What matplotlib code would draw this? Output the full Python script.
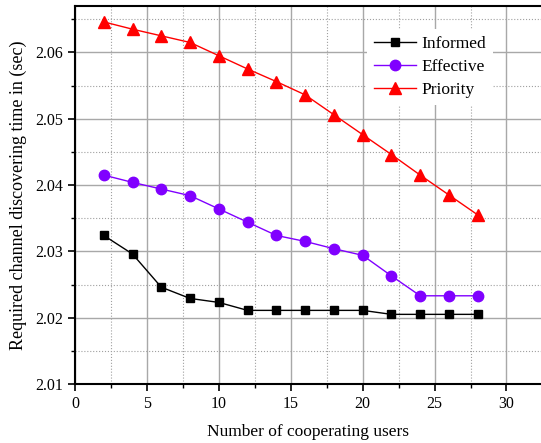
import numpy as np
import matplotlib
matplotlib.use('Agg')
import matplotlib.pyplot as plt
from matplotlib.ticker import MultipleLocator

# data
users = [2, 4, 6, 8, 10, 12, 14, 16, 18, 20, 22, 24, 26, 28]
informed = [2.0324, 2.0296, 2.0246, 2.0229, 2.0223, 2.0211, 2.0211,
            2.0211, 2.0211, 2.0211, 2.0205, 2.0205, 2.0205, 2.0205]
effective = [2.0415, 2.0404, 2.0394, 2.0384, 2.0364, 2.0344, 2.0324,
             2.0315, 2.0304, 2.0294, 2.0263, 2.0233, 2.0233, 2.0233]
priority = [2.0646, 2.0635, 2.0625, 2.0615, 2.0595, 2.0575, 2.0556,
            2.0536, 2.0506, 2.0476, 2.0446, 2.0415, 2.0385, 2.0355]

plt.rcParams['font.family'] = ['Liberation Serif', 'DejaVu Serif']

fig = plt.figure(figsize=(5.41, 4.43), dpi=100)
ax = fig.add_axes([0.1386, 0.1332, 0.8614, 0.8533])

ax.plot(users, informed, color='black', marker='s', ms=6, lw=1, label='Informed')
ax.plot(users, effective, color='#8000ff', marker='o', ms=7.5, lw=1, label='Effective')
ax.plot(users, priority, color='red', marker='^', ms=9, lw=1, label='Priority')

ax.set_xlim(0, 32.4)
ax.set_ylim(2.01, 2.067)
ax.xaxis.set_major_locator(MultipleLocator(5))
ax.xaxis.set_minor_locator(MultipleLocator(2.5))
ax.yaxis.set_major_locator(MultipleLocator(0.01))
ax.yaxis.set_minor_locator(MultipleLocator(0.005))
ax.yaxis.set_major_formatter(plt.FormatStrFormatter('%.2f'))

ax.grid(which='major', color='#a8a8a8', lw=1, ls='-')
ax.grid(which='minor', color='#a0a0a0', lw=0.8, ls=':')
ax.set_axisbelow(True)

ax.tick_params(which='major', direction='out', length=5, width=1.2, labelsize=11.5)
ax.tick_params(which='minor', direction='out', length=3, width=1)
ax.spines['right'].set_visible(False)
for s in ['left', 'bottom', 'top']:
    ax.spines[s].set_linewidth(1.5)

ax.set_xlabel('Number of cooperating users', fontsize=12.5, labelpad=9)
ax.set_ylabel('Required channel discovering time in (sec)', fontsize=13, labelpad=6)

leg = ax.legend(loc='upper left', bbox_to_anchor=(0.627, 0.94), fontsize=12.5,
                frameon=True, fancybox=False, edgecolor='none', framealpha=1,
                handlelength=2.4, handletextpad=0.3, labelspacing=0.4,
                borderaxespad=0)

fig.savefig('out.png', dpi=100)
